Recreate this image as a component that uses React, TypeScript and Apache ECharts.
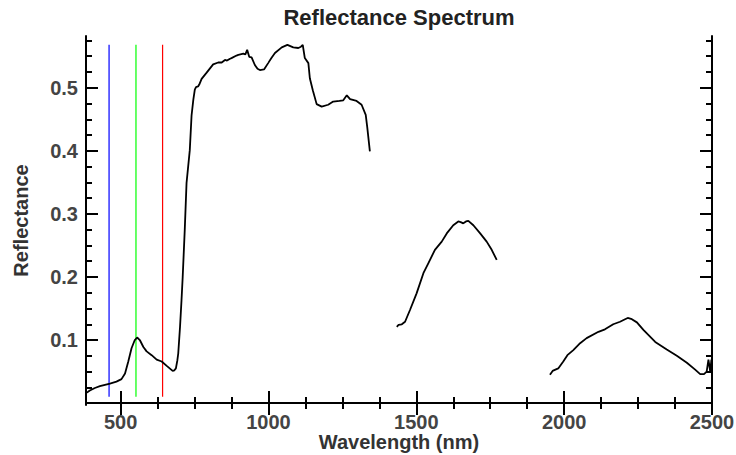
import React, { useEffect, useRef } from "react";
import * as echarts from "echarts";

// Segment 1: 383–1343 nm
const seg1Wavelength = [
  383, 390, 396, 413, 430, 447, 464, 486, 503, 515, 526, 537, 548, 556, 565, 577, 588, 605, 622, 639,
  656, 676, 682, 687, 692, 695, 701, 706, 710, 717, 723, 734, 740, 746, 751, 755, 762, 766, 774, 791,
  813, 830, 842, 853, 860, 870, 875, 892, 898, 915, 922, 928, 935, 943, 954, 963, 971, 985, 999, 1010,
  1022, 1045, 1064, 1084, 1101, 1110, 1116, 1123, 1135, 1140, 1150, 1163, 1180, 1202, 1219, 1240, 1253,
  1265, 1276, 1298, 1315, 1329, 1334, 1343,
];
const seg1Reflectance = [
  0.016, 0.018, 0.020, 0.024, 0.027, 0.029, 0.031, 0.034, 0.038, 0.047, 0.066, 0.087, 0.100, 0.104, 0.100, 0.089, 0.082, 0.076, 0.069, 0.066,
  0.059, 0.051, 0.052, 0.055, 0.068, 0.079, 0.121, 0.163, 0.200, 0.275, 0.349, 0.401, 0.456, 0.481, 0.497, 0.501, 0.502, 0.505, 0.514, 0.524,
  0.537, 0.540, 0.540, 0.544, 0.543, 0.546, 0.547, 0.551, 0.552, 0.554, 0.553, 0.560, 0.549, 0.548, 0.536, 0.530, 0.528, 0.529, 0.539, 0.547,
  0.555, 0.564, 0.568, 0.564, 0.563, 0.565, 0.568, 0.547, 0.539, 0.515, 0.496, 0.474, 0.470, 0.473, 0.478, 0.479, 0.480,
  0.488, 0.482, 0.479, 0.473, 0.457, 0.438, 0.399,
];

// Segment 2: 1434–1772 nm
const seg2Wavelength = [
  1434, 1440, 1451, 1462, 1479, 1501, 1524, 1541, 1563, 1586, 1603, 1625, 1642, 1650, 1659, 1668, 1676,
  1693, 1716, 1738, 1755, 1772,
];
const seg2Reflectance = [
  0.121, 0.124, 0.125, 0.129, 0.148, 0.174, 0.206, 0.222, 0.243, 0.256, 0.269, 0.282, 0.288, 0.287, 0.285, 0.288, 0.289,
  0.282, 0.269, 0.256, 0.243, 0.227,
];

// Segment 3: 1952–2500 nm
const seg3Wavelength = [
  1952, 1961, 1980, 1997, 2011, 2031, 2054, 2076, 2116, 2138, 2166, 2189, 2206, 2215, 2229, 2246, 2268,
  2308, 2347, 2381, 2415, 2443, 2460, 2473, 2482, 2488, 2494, 2498, 2500,
];
const seg3Reflectance = [
  0.045, 0.051, 0.055, 0.066, 0.076, 0.084, 0.095, 0.103, 0.113, 0.117, 0.125, 0.129, 0.133, 0.135, 0.133, 0.128, 0.116,
  0.097, 0.085, 0.075, 0.064, 0.053, 0.046, 0.046, 0.050, 0.069, 0.050, 0.069, 0.069,
];

// Band marker lines (blue, green, red)
const markerWavelengths = [461, 552, 642];
const markerBottom = 0.01;
const markerTop = 0.568;

// Axis ticks
const xMajorTicks = [500, 1000, 1500, 2000, 2500];
const xMinorTicks = [625, 750, 875, 1125, 1250, 1375, 1625, 1750, 1875, 2125, 2250, 2375];
const yMajorTicks = [0.1, 0.2, 0.3, 0.4, 0.5];
const yMinorTicks = [
  0.025, 0.05, 0.075, 0.125, 0.15, 0.175, 0.225, 0.25, 0.275, 0.325, 0.35, 0.375, 0.425, 0.45, 0.475,
  0.525, 0.55, 0.575,
];

const X_MIN = 383;
const X_MAX = 2500;
const Y_MIN = -0.003;
const Y_MAX = 0.582;

const FONT = "'Liberation Sans', Arial, Helvetica, sans-serif";

function zip(xs: number[], ys: number[]) {
  return xs.map((x, i) => [x, ys[i]]);
}

export default function App() {
  const ref = useRef<HTMLDivElement>(null);

  useEffect(() => {
    if (!ref.current) return;
    const chart = echarts.init(ref.current, undefined, { renderer: "svg" });

    const axisLine = { show: true, lineStyle: { color: "#000", width: 2 } };
    const mkX = (position: "top" | "bottom", ticks: number[], len: number, labels: boolean, line: boolean) => ({
      type: "value",
      position,
      min: X_MIN,
      max: X_MAX,
      axisLine: { ...axisLine, show: line },
      axisTick: { show: true, inside: true, length: len, customValues: ticks, lineStyle: { color: "#000", width: 2 } },
      axisLabel: labels
        ? {
            show: true,
            customValues: ticks,
            margin: 7,
            fontSize: 20,
            lineHeight: 20,
            fontWeight: "bold",
            color: "#444",
            fontFamily: FONT,
            formatter: (v: number) => String(Math.round(v)),
          }
        : { show: false },
      splitLine: { show: false },
    });
    const mkY = (position: "left" | "right", ticks: number[], len: number, labels: boolean, line: boolean) => ({
      type: "value",
      position,
      min: Y_MIN,
      max: Y_MAX,
      axisLine: { ...axisLine, show: line },
      axisTick: { show: true, inside: true, length: len, customValues: ticks, lineStyle: { color: "#000", width: 2 } },
      axisLabel: labels
        ? {
            show: true,
            customValues: ticks,
            margin: 8,
            fontSize: 20,
            fontWeight: "bold",
            color: "#444",
            fontFamily: FONT,
            formatter: (v: number) => v.toFixed(1),
          }
        : { show: false },
      splitLine: { show: false },
    });

    const xAxes: any[] = [
      {
        ...mkX("bottom", xMajorTicks, 12, true, true),
        name: "Wavelength (nm)",
        nameLocation: "middle",
        nameGap: 27,
        nameMoveOverlap: false,
        nameTextStyle: { fontSize: 20, lineHeight: 20, fontWeight: "bold", color: "#333", fontFamily: FONT },
      },
      mkX("bottom", xMinorTicks, 6, false, false),
      mkX("top", xMajorTicks, 12, false, true),
      mkX("top", xMinorTicks, 6, false, false),
    ];
    const yAxes: any[] = [
      {
        ...mkY("left", yMajorTicks, 12, true, true),
        name: "Reflectance",
        nameLocation: "middle",
        nameGap: 55,
        nameMoveOverlap: false,
        nameTextStyle: { fontSize: 20, fontWeight: "bold", color: "#333", fontFamily: FONT },
      },
      mkY("left", yMinorTicks, 6, false, false),
      mkY("right", yMajorTicks, 12, false, true),
      mkY("right", yMinorTicks, 6, false, false),
    ];

    const markerColors = ["#0000ff", "#00ff00", "#ff0000"];
    const markerSeries = markerWavelengths.map((w, i) => ({
      type: "line",
      xAxisIndex: 0,
      yAxisIndex: 0,
      data: [
        [w, markerBottom],
        [w, markerTop],
      ],
      showSymbol: false,
      symbol: "none",
      lineStyle: { color: markerColors[i], width: 1.2 },
      z: 1,
    }));

    const spectrumSeries = [
      zip(seg1Wavelength, seg1Reflectance),
      zip(seg2Wavelength, seg2Reflectance),
      zip(seg3Wavelength, seg3Reflectance),
    ].map((d) => ({
      type: "line",
      xAxisIndex: 0,
      yAxisIndex: 0,
      data: d,
      showSymbol: false,
      symbol: "none",
      lineStyle: { color: "#000", width: 1.8 },
      z: 2,
    }));

    chart.setOption({
      animation: false,
      backgroundColor: "#fff",
      title: {
        text: "Reflectance Spectrum",
        left: 399,
        top: 6,
        textAlign: "center",
        padding: 0,
        textStyle: { fontSize: 22, fontWeight: "bold", color: "#222", fontFamily: FONT },
      },
      grid: { left: 86, right: 24, top: 36, bottom: 50, containLabel: false, outerBoundsMode: "none" },
      xAxis: xAxes,
      yAxis: yAxes,
      series: [...markerSeries, ...spectrumSeries],
    });

    return () => chart.dispose();
  }, []);

  return (
    <div
      ref={ref}
      style={{ position: "fixed", left: 0, top: 0, width: 736, height: 455, background: "#fff" }}
    />
  );
}
